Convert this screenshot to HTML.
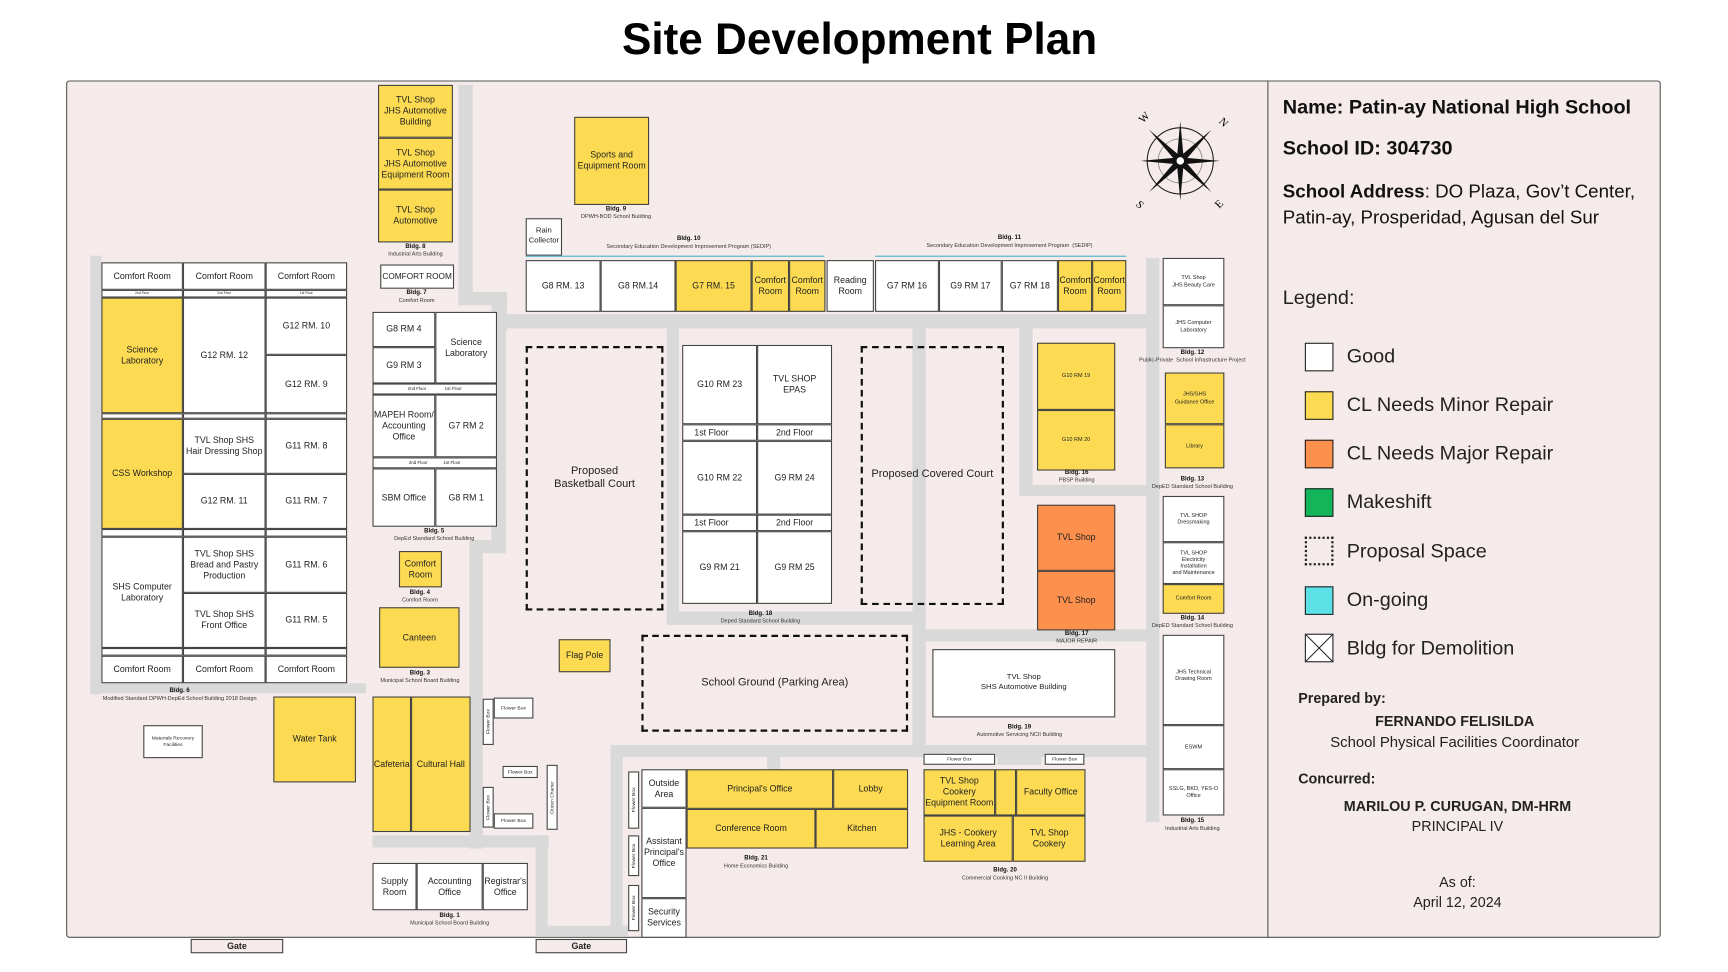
<!DOCTYPE html>
<html><head><meta charset="utf-8">
<style>
*{box-sizing:border-box;margin:0;padding:0}
html,body{width:1728px;height:972px;overflow:hidden;background:#fff;font-family:"Liberation Sans",sans-serif;color:#222}
#w{position:absolute;left:0;top:0;width:1568px;height:882px;transform:scale(1.10204);transform-origin:0 0}
.a{position:absolute}
.b{position:absolute;background:#fff;border:1px solid #444;display:flex;align-items:center;justify-content:center;text-align:center;font-size:8px;line-height:1.25}
.y{background:#fcdb52}
.o{background:#fd904c}
.d{background:transparent;border:2px dashed #111;font-size:10px}
.r{position:absolute;background:#d9d9d9}
.c{position:absolute;text-align:center;font-size:5px;line-height:1.3;color:#333;white-space:nowrap;transform:translateX(-50%)}
.c b{font-size:5.5px;color:#111}
.f{position:absolute;background:#fff;border:1px solid #444;font-size:4.5px;text-align:center;line-height:1.2;display:flex;align-items:center;justify-content:center;height:8px}
.t{font-size:4px}
.v{writing-mode:vertical-rl;transform:rotate(180deg);font-size:4.5px;display:flex;align-items:center;justify-content:center}
.lg{position:absolute;left:1184px;width:26px;height:26px;border:1.5px solid #222}
.lt{position:absolute;left:1222px;font-size:18px;color:#222}
</style></head><body><div id="w">
<div class="a" style="left:0;top:14px;width:1560px;text-align:center;font-size:40px;font-weight:bold;color:#000">Site Development Plan</div>
<div class="a" style="left:60px;top:73px;width:1447px;height:778px;background:#f5ebea;border:1px solid #555;border-radius:3px"></div>
<div class="a" style="left:1150px;top:73px;width:1px;height:778px;background:#555"></div>

<!-- roads -->
<div class="r" style="left:416px;top:77px;width:13px;height:198px"></div>
<div class="r" style="left:416px;top:265px;width:44px;height:12px"></div>
<div class="r" style="left:446px;top:265px;width:14px;height:36px"></div>
<div class="r" style="left:446px;top:285px;width:606px;height:13px"></div>
<div class="r" style="left:446px;top:298px;width:13px;height:200px"></div>
<div class="r" style="left:426px;top:490px;width:33px;height:12px"></div>
<div class="r" style="left:426px;top:490px;width:12px;height:280px"></div>
<div class="r" style="left:338px;top:758px;width:160px;height:11px"></div>
<div class="r" style="left:486px;top:758px;width:11px;height:92px"></div>
<div class="r" style="left:486px;top:840px;width:84px;height:10px"></div>
<div class="r" style="left:554px;top:676px;width:11px;height:174px"></div>
<div class="r" style="left:554px;top:676px;width:498px;height:11px"></div>
<div class="r" style="left:605px;top:298px;width:11px;height:268px"></div>
<div class="r" style="left:605px;top:555px;width:235px;height:12px"></div>
<div class="r" style="left:828px;top:298px;width:12px;height:389px"></div>
<div class="r" style="left:925px;top:298px;width:12px;height:142px"></div>
<div class="r" style="left:925px;top:440px;width:127px;height:10px"></div>
<div class="r" style="left:840px;top:571px;width:212px;height:11px"></div>
<div class="r" style="left:1040px;top:234px;width:12px;height:512px"></div>
<div class="r" style="left:82px;top:232px;width:10px;height:398px"></div>
<div class="r" style="left:82px;top:620px;width:250px;height:9px"></div>
<div class="r" style="left:696px;top:676px;width:12px;height:22px"></div>
<div class="r" style="left:905px;top:676px;width:40px;height:18px"></div>

<!-- Bldg 8 -->
<div class="b y" style="left:343px;top:77px;width:68px;height:48px">TVL Shop<br>JHS Automotive<br>Building</div>
<div class="b y" style="left:343px;top:125px;width:68px;height:47px">TVL Shop<br>JHS Automotive<br>Equipment Room</div>
<div class="b y" style="left:343px;top:172px;width:68px;height:48px">TVL Shop<br>Automotive</div>
<div class="c" style="left:377px;top:221px"><b>Bldg. 8</b><br>Industrial Arts Building</div>
<div class="b" style="left:345px;top:240px;width:67px;height:22px;font-size:7.5px;white-space:nowrap">COMFORT ROOM</div>
<div class="c" style="left:378px;top:263px"><b>Bldg. 7</b><br>Comfort Room</div>
<!-- Bldg 9 -->
<div class="b y" style="left:521px;top:106px;width:68px;height:80px">Sports and<br>Equipment Room</div>
<div class="c" style="left:559px;top:187px"><b>Bldg. 9</b><br>DPWH-BOD School Building</div>
<div class="b" style="left:477px;top:198px;width:33px;height:34px;font-size:7px">Rain<br>Collector</div>
<!-- Bldg 10 -->
<div class="c" style="left:625px;top:214px"><b>Bldg. 10</b><br>Secondary Education Development Improvement Program (SEDIP)</div>
<div class="a" style="left:477px;top:232px;width:271px;height:1px;background:#4bb3c9"></div>
<div class="b" style="left:477px;top:236px;width:68px;height:47px">G8 RM. 13</div>
<div class="b" style="left:545px;top:236px;width:68px;height:47px">G8 RM.14</div>
<div class="b y" style="left:613px;top:236px;width:69px;height:47px">G7 RM. 15</div>
<div class="b y" style="left:682px;top:236px;width:34px;height:47px">Comfort<br>Room</div>
<div class="b y" style="left:716px;top:236px;width:33px;height:47px">Comfort<br>Room</div>
<div class="b" style="left:750px;top:236px;width:43px;height:47px">Reading<br>Room</div>
<!-- Bldg 11 -->
<div class="c" style="left:916px;top:213px"><b>Bldg. 11</b><br>Secondary Education Development Improvement Program &nbsp;(SEDIP)</div>
<div class="a" style="left:794px;top:232px;width:228px;height:1px;background:#4bb3c9"></div>
<div class="b" style="left:794px;top:236px;width:58px;height:47px">G7 RM 16</div>
<div class="b" style="left:852px;top:236px;width:57px;height:47px">G9 RM 17</div>
<div class="b" style="left:909px;top:236px;width:51px;height:47px">G7 RM 18</div>
<div class="b y" style="left:960px;top:236px;width:31px;height:47px">Comfort<br>Room</div>
<div class="b y" style="left:991px;top:236px;width:31px;height:47px">Comfort<br>Room</div>
<!-- compass -->
<svg class="a" style="left:1025px;top:100px" width="92" height="92" viewBox="-46 -46 92 92">
<circle r="30" fill="none" stroke="#222" stroke-width="1"/><circle r="20" fill="none" stroke="#888" stroke-width="0.7"/>
<g fill="#111"><polygon points="0,-36 3,-3 0,0 -3,-3"/><polygon points="0,36 3,3 0,0 -3,3"/><polygon points="-36,0 -3,-3 0,0 -3,3"/><polygon points="36,0 3,-3 0,0 3,3"/>
<g transform="rotate(45)"><polygon points="0,-40 3,-3 0,0 -3,-3"/><polygon points="0,40 3,3 0,0 -3,3"/><polygon points="-40,0 -3,-3 0,0 -3,3"/><polygon points="40,0 3,-3 0,0 3,3"/></g></g>
<circle r="4" fill="#fff" stroke="#111" stroke-width="1.2"/>
<text x="-36" y="-33" font-size="10" font-family="Liberation Serif" transform="rotate(-45 -36 -36)">W</text>
<text x="36" y="-33" font-size="10" font-family="Liberation Serif" transform="rotate(45 38 -36)">N</text>
<text x="-40" y="42" font-size="10" font-family="Liberation Serif" transform="rotate(45 -38 40)">S</text>
<text x="33" y="42" font-size="10" font-family="Liberation Serif" transform="rotate(-45 36 40)">E</text>
</svg>
<!-- Bldg 12-15 -->
<div class="b t" style="left:1055px;top:234px;width:56px;height:43px;font-size:5px">TVL Shop<br>JHS Beauty Care</div>
<div class="b t" style="left:1055px;top:277px;width:56px;height:39px;font-size:5px">JHS Computer<br>Laboratory</div>
<div class="c" style="left:1082px;top:317px"><b>Bldg. 12</b><br>Public-Private &nbsp;School Infrastructure Project</div>
<div class="b y" style="left:1057px;top:338px;width:54px;height:47px;font-size:5px">JHS/SHS<br>Guidance Office</div>
<div class="b y" style="left:1057px;top:385px;width:54px;height:40px;font-size:5px">Library</div>
<div class="c" style="left:1082px;top:432px"><b>Bldg. 13</b><br>DepED Standard School Building</div>
<div class="b" style="left:1055px;top:450px;width:56px;height:42px;font-size:5px">TVL SHOP<br>Dressmaking</div>
<div class="b" style="left:1055px;top:492px;width:56px;height:38px;font-size:5px">TVL SHOP<br>Electricity<br>Installation<br>and Maintenance</div>
<div class="b y" style="left:1055px;top:530px;width:56px;height:27px;font-size:5px">Comfort Room</div>
<div class="c" style="left:1082px;top:558px"><b>Bldg. 14</b><br>DepED Standard School Building</div>
<div class="b" style="left:1055px;top:576px;width:56px;height:82px;font-size:5px;align-items:flex-start;padding-top:30px">JHS Technical<br>Drawing Room</div>
<div class="b" style="left:1055px;top:658px;width:56px;height:40px;font-size:5px">ESWM</div>
<div class="b" style="left:1055px;top:698px;width:56px;height:42px;font-size:5px">SSLG, BKD, YES-O<br>Office</div>
<div class="c" style="left:1082px;top:742px"><b>Bldg. 15</b><br>Industrial Arts Building</div>
<!-- Bldg 16/17 -->
<div class="b y" style="left:941px;top:311px;width:71px;height:61px;font-size:5px">G10 RM 19</div>
<div class="b y" style="left:941px;top:372px;width:71px;height:55px;font-size:5px">G10 RM 20</div>
<div class="c" style="left:977px;top:426px"><b>Bldg. 16</b><br>PBSP Building</div>
<div class="b o" style="left:941px;top:458px;width:71px;height:60px">TVL Shop</div>
<div class="b o" style="left:941px;top:518px;width:71px;height:54px">TVL Shop</div>
<div class="c" style="left:977px;top:572px"><b>Bldg. 17</b><br>MAJOR REPAIR</div>
<div class="b" style="left:846px;top:589px;width:166px;height:62px;font-size:7px">TVL Shop<br>SHS Automotive Building</div>
<div class="c" style="left:925px;top:657px"><b>Bldg. 19</b><br>Automotive Servicing NCII Building</div>
<!-- courts -->
<div class="b d" style="left:781px;top:314px;width:130px;height:235px">Proposed Covered Court</div>
<div class="b d" style="left:477px;top:314px;width:125px;height:240px">Proposed<br>Basketball Court</div>
<div class="b d" style="left:582px;top:576px;width:242px;height:88px">School Ground (Parking Area)</div>
<div class="b y" style="left:507px;top:580px;width:47px;height:30px">Flag Pole</div>
<!-- Bldg 18 -->
<div class="b" style="left:619px;top:313px;width:68px;height:72px">G10 RM 23</div>
<div class="b" style="left:687px;top:313px;width:68px;height:72px">TVL SHOP<br>EPAS</div>
<div class="b" style="left:619px;top:385px;width:68px;height:15px;justify-content:flex-start;padding-left:10px">1st Floor</div>
<div class="b" style="left:687px;top:385px;width:68px;height:15px">2nd Floor</div>
<div class="b" style="left:619px;top:400px;width:68px;height:67px">G10 RM 22</div>
<div class="b" style="left:687px;top:400px;width:68px;height:67px">G9 RM 24</div>
<div class="b" style="left:619px;top:467px;width:68px;height:15px;justify-content:flex-start;padding-left:10px">1st Floor</div>
<div class="b" style="left:687px;top:467px;width:68px;height:15px">2nd Floor</div>
<div class="b" style="left:619px;top:482px;width:68px;height:66px">G9 RM 21</div>
<div class="b" style="left:687px;top:482px;width:68px;height:66px">G9 RM 25</div>
<div class="c" style="left:690px;top:554px"><b>Bldg. 18</b><br>Deped Standard School Building</div>
<!-- Bldg 6 -->
<div class="b" style="left:92px;top:238px;width:74px;height:25px">Comfort Room</div>
<div class="b" style="left:166px;top:238px;width:75px;height:25px">Comfort Room</div>
<div class="b" style="left:241px;top:238px;width:74px;height:25px">Comfort Room</div>
<div class="f" style="left:92px;top:263px;width:74px;height:7px;font-size:3px">2nd Floor</div><div class="f" style="left:166px;top:263px;width:75px;height:7px;font-size:3px">2nd Floor</div><div class="f" style="left:241px;top:263px;width:74px;height:7px;font-size:3px">1st Floor</div>
<div class="b y" style="left:92px;top:270px;width:74px;height:105px">Science<br>Laboratory</div>
<div class="b" style="left:166px;top:270px;width:75px;height:105px">G12 RM. 12</div>
<div class="b" style="left:241px;top:270px;width:74px;height:52px">G12 RM. 10</div>
<div class="b" style="left:241px;top:322px;width:74px;height:53px">G12 RM. 9</div>
<div class="f" style="left:92px;top:375px;width:74px;height:5px;font-size:3px"></div><div class="f" style="left:166px;top:375px;width:75px;height:5px"></div><div class="f" style="left:241px;top:375px;width:74px;height:5px"></div>
<div class="b y" style="left:92px;top:380px;width:74px;height:100px">CSS Workshop</div>
<div class="b" style="left:166px;top:380px;width:75px;height:50px">TVL Shop SHS<br>Hair Dressing Shop</div>
<div class="b" style="left:166px;top:430px;width:75px;height:50px">G12 RM. 11</div>
<div class="b" style="left:241px;top:380px;width:74px;height:50px">G11 RM. 8</div>
<div class="b" style="left:241px;top:430px;width:74px;height:50px">G11 RM. 7</div>
<div class="f" style="left:92px;top:480px;width:74px;height:7px"></div><div class="f" style="left:166px;top:480px;width:75px;height:7px"></div><div class="f" style="left:241px;top:480px;width:74px;height:7px"></div>
<div class="b" style="left:92px;top:487px;width:74px;height:101px">SHS Computer<br>Laboratory</div>
<div class="b" style="left:166px;top:487px;width:75px;height:51px">TVL Shop SHS<br>Bread and Pastry<br>Production</div>
<div class="b" style="left:166px;top:538px;width:75px;height:50px">TVL Shop SHS<br>Front Office</div>
<div class="b" style="left:241px;top:487px;width:74px;height:51px">G11 RM. 6</div>
<div class="b" style="left:241px;top:538px;width:74px;height:50px">G11 RM. 5</div>
<div class="f" style="left:92px;top:588px;width:74px;height:7px"></div><div class="f" style="left:166px;top:588px;width:75px;height:7px"></div><div class="f" style="left:241px;top:588px;width:74px;height:7px"></div>
<div class="b" style="left:92px;top:595px;width:74px;height:25px">Comfort Room</div>
<div class="b" style="left:166px;top:595px;width:75px;height:25px">Comfort Room</div>
<div class="b" style="left:241px;top:595px;width:74px;height:25px">Comfort Room</div>
<div class="c" style="left:163px;top:624px"><b>Bldg. 6</b><br>Modified Standard DPWH-DepEd School Building 2018 Design</div>
<div class="b" style="left:130px;top:658px;width:54px;height:30px;font-size:4.5px">Materials Recovery<br>Facilities</div>
<!-- Bldg 5 -->
<div class="b" style="left:338px;top:283px;width:57px;height:32px">G8 RM 4</div>
<div class="b" style="left:338px;top:315px;width:57px;height:33px">G9 RM 3</div>
<div class="b" style="left:395px;top:283px;width:56px;height:65px">Science<br>Laboratory</div>
<div class="f" style="left:338px;top:348px;width:113px;height:10px;font-size:4px">2nd Floor &nbsp; &nbsp; &nbsp; &nbsp; &nbsp; &nbsp; &nbsp; 1st Floor</div>
<div class="b" style="left:338px;top:358px;width:57px;height:57px">MAPEH Room/<br>Accounting<br>Office</div>
<div class="b" style="left:395px;top:358px;width:56px;height:57px">G7 RM 2</div>
<div class="f" style="left:338px;top:415px;width:113px;height:10px;font-size:4px">2nd Floor &nbsp; &nbsp; &nbsp; &nbsp; &nbsp; &nbsp; 1st Floor</div>
<div class="b" style="left:338px;top:425px;width:57px;height:53px">SBM Office</div>
<div class="b" style="left:395px;top:425px;width:56px;height:53px">G8 RM 1</div>
<div class="c" style="left:394px;top:479px"><b>Bldg. 5</b><br>DepEd Standard School Building</div>
<div class="b y" style="left:362px;top:500px;width:39px;height:33px">Comfort<br>Room</div>
<div class="c" style="left:381px;top:535px"><b>Bldg. 4</b><br>Comfort Room</div>
<div class="b y" style="left:344px;top:551px;width:73px;height:55px">Canteen</div>
<div class="c" style="left:381px;top:608px"><b>Bldg. 3</b><br>Municipal School Board Building</div>
<div class="b y" style="left:248px;top:632px;width:75px;height:78px">Water Tank</div>
<div class="b y" style="left:338px;top:632px;width:35px;height:123px">Cafeteria</div>
<div class="b y" style="left:373px;top:632px;width:54px;height:123px">Cultural Hall</div>
<!-- flower boxes -->
<div class="b v" style="left:438px;top:634px;width:10px;height:42px">Flower Box</div>
<div class="f" style="left:448px;top:633px;width:36px;height:19px">Flower Box</div>
<div class="f" style="left:456px;top:695px;width:32px;height:11px">Flower Box</div>
<div class="b v" style="left:438px;top:714px;width:10px;height:37px">Flower Box</div>
<div class="f" style="left:448px;top:738px;width:36px;height:14px">Flower Box</div>
<div class="b v" style="left:496px;top:694px;width:10px;height:59px">Citizen Charter</div>
<!-- Bldg 1 -->
<div class="b" style="left:338px;top:783px;width:40px;height:43px">Supply<br>Room</div>
<div class="b" style="left:378px;top:783px;width:60px;height:43px">Accounting<br>Office</div>
<div class="b" style="left:438px;top:783px;width:41px;height:43px">Registrar's<br>Office</div>
<div class="c" style="left:408px;top:828px"><b>Bldg. 1</b><br>Municipal School Board Building</div>
<div class="b" style="left:173px;top:852px;width:84px;height:13px;background:#f5ebea;font-weight:bold">Gate</div>
<div class="b" style="left:486px;top:852px;width:83px;height:13px;background:#f5ebea;font-weight:bold">Gate</div>
<!-- Bldg 21 -->
<div class="b v" style="left:570px;top:700px;width:10px;height:52px">Flower Box</div>
<div class="b v" style="left:570px;top:758px;width:10px;height:37px">Flower Box</div>
<div class="b v" style="left:570px;top:803px;width:10px;height:42px">Flower Box</div>
<div class="b" style="left:582px;top:698px;width:41px;height:35px">Outside<br>Area</div>
<div class="b" style="left:582px;top:733px;width:41px;height:82px">Assistant<br>Principal's<br>Office</div>
<div class="b" style="left:582px;top:815px;width:41px;height:36px">Security<br>Services</div>
<div class="b y" style="left:623px;top:698px;width:133px;height:36px">Principal's Office</div>
<div class="b y" style="left:756px;top:698px;width:68px;height:36px">Lobby</div>
<div class="b y" style="left:623px;top:734px;width:117px;height:36px">Conference Room</div>
<div class="b y" style="left:740px;top:734px;width:84px;height:36px">Kitchen</div>
<div class="c" style="left:686px;top:776px"><b>Bldg. 21</b><br>Home Economics Building</div>
<!-- Bldg 20 -->
<div class="f" style="left:838px;top:684px;width:65px;height:10px">Flower Box</div>
<div class="f" style="left:948px;top:684px;width:36px;height:10px">Flower Box</div>
<div class="b y" style="left:838px;top:698px;width:65px;height:42px">TVL Shop<br>Cookery<br>Equipment Room</div>
<div class="b y" style="left:903px;top:698px;width:19px;height:42px"></div>
<div class="b y" style="left:922px;top:698px;width:63px;height:42px">Faculty Office</div>
<div class="b y" style="left:838px;top:740px;width:81px;height:42px">JHS - Cookery<br>Learning Area</div>
<div class="b y" style="left:919px;top:740px;width:66px;height:42px">TVL Shop<br>Cookery</div>
<div class="c" style="left:912px;top:787px"><b>Bldg. 20</b><br>Commercial Cooking NC II Building</div>

<!-- right panel -->
<div class="a" style="left:1164px;top:87px;font-size:18px;font-weight:bold;color:#111">Name: Patin-ay National High School</div>
<div class="a" style="left:1164px;top:124px;font-size:18px;font-weight:bold;color:#111">School ID: 304730</div>
<div class="a" style="left:1164px;top:162px;font-size:17px;line-height:24px;color:#111"><b>School Address</b>: DO Plaza, Gov’t Center,<br>Patin-ay, Prosperidad, Agusan del Sur</div>
<div class="a" style="left:1164px;top:260px;font-size:18px">Legend:</div>
<div class="lg" style="top:311px;background:#fff"></div><div class="lt" style="top:313px">Good</div>
<div class="lg" style="top:355px;background:#fcdb52"></div><div class="lt" style="top:357px">CL Needs Minor Repair</div>
<div class="lg" style="top:399px;background:#fd904c"></div><div class="lt" style="top:401px">CL Needs Major Repair</div>
<div class="lg" style="top:443px;background:#12b55a"></div><div class="lt" style="top:445px">Makeshift</div>
<div class="lg" style="top:487px;border:2px dotted #222"></div><div class="lt" style="top:490px">Proposal Space</div>
<div class="lg" style="top:532px;background:#5ce1e6"></div><div class="lt" style="top:534px">On-going</div>
<svg class="lg" style="top:575px;background:#fff" viewBox="0 0 26 26"><line x1="0" y1="0" x2="26" y2="26" stroke="#222"/><line x1="26" y1="0" x2="0" y2="26" stroke="#222"/></svg><div class="lt" style="top:578px">Bldg for Demolition</div>
<div class="a" style="left:1178px;top:626px;font-size:13px;font-weight:bold">Prepared by:</div>
<div class="a" style="left:1160px;top:647px;width:320px;text-align:center;font-size:13px;font-weight:bold">FERNANDO FELISILDA</div>
<div class="a" style="left:1160px;top:666px;width:320px;text-align:center;font-size:13.5px">School Physical Facilities Coordinator</div>
<div class="a" style="left:1178px;top:699px;font-size:13px;font-weight:bold">Concurred:</div>
<div class="a" style="left:1160px;top:724px;width:325px;text-align:center;font-size:13px;font-weight:bold">MARILOU P. CURUGAN, DM-HRM</div>
<div class="a" style="left:1160px;top:742px;width:325px;text-align:center;font-size:13px">PRINCIPAL IV</div>
<div class="a" style="left:1160px;top:793px;width:325px;text-align:center;font-size:13px">As of:</div>
<div class="a" style="left:1160px;top:811px;width:325px;text-align:center;font-size:13px">April 12, 2024</div>
</div></body></html>
